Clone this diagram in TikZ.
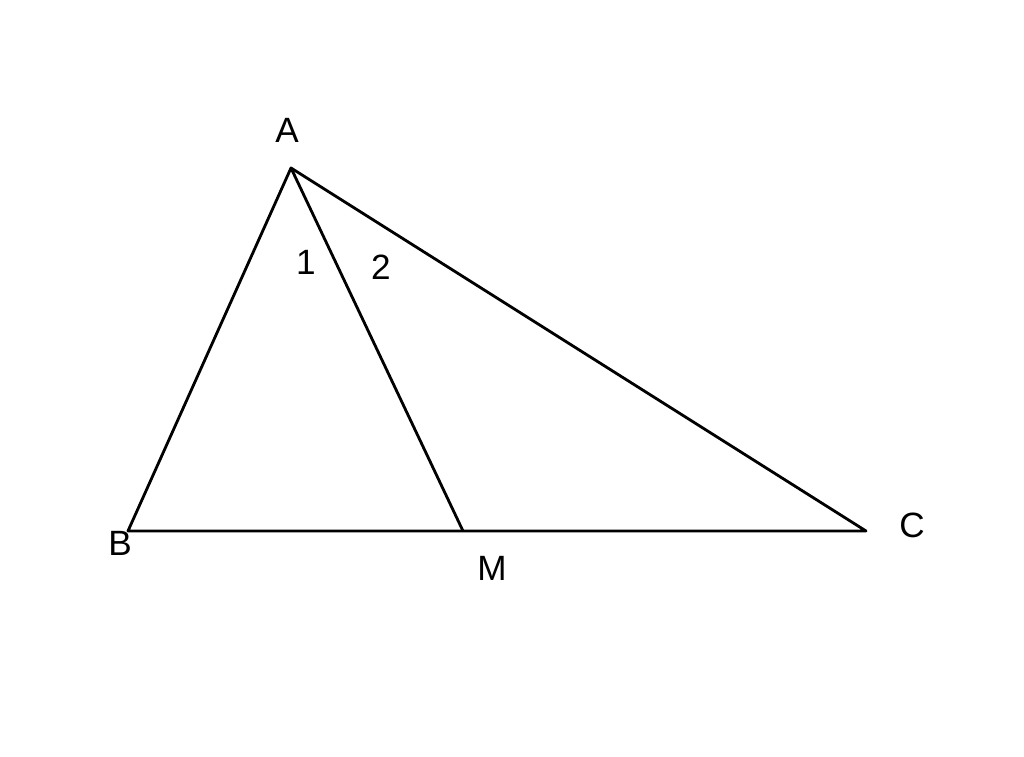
\documentclass[tikz,border=0pt]{standalone}
\usepackage{fontspec}
\setmainfont{Liberation Sans}
\usetikzlibrary{positioning}

\begin{document}
\begin{tikzpicture}[lbl/.style={inner sep=0pt, font=\fontsize{10}{12}\selectfont}, seg/.style={line width=0.8pt, line join=round}]
        \useasboundingbox (0,0) rectangle (10.24,7.57);
        \coordinate (A) at (2.91,5.89);
        \coordinate (B) at (1.28,2.26);
        \coordinate (M) at (4.63,2.26);
        \coordinate (C) at (8.66,2.26);
        \node[lbl] (LA) at (2.87,6.27) {A};
        \node[lbl] (LB) at (1.20,2.14) {B};
        \node[lbl] (LM) at (4.92,1.89) {M};
        \node[lbl] (LC) at (9.12,2.32) {C};
        \node[lbl] (L1) at (3.06,4.95) {1};
        \node[lbl] (L2) at (3.81,4.90) {2};
        \draw[seg] (A) -- (B) -- (C) -- cycle;
        \draw[seg] (A) -- (M);
    \end{tikzpicture}
\end{document}
